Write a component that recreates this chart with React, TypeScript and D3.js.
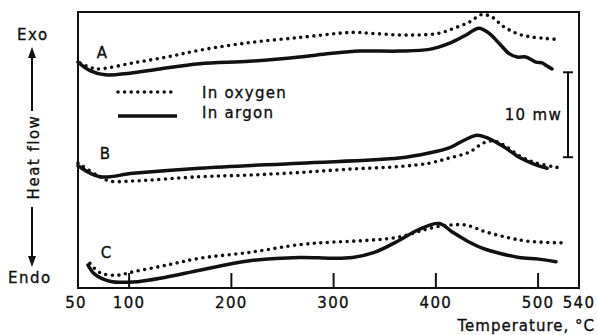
import React from "react";
import * as d3 from "d3";

// Temperature axis ticks (°C)
const xTicks = [100, 200, 300, 400, 500];
const xTickLabels = [50, 100, 200, 300, 400, 500, 540];

// Heat flow in mW (relative, with offsets for curves A, B, C)
const aArgonT = [50, 61.7, 76.4, 100.8, 130, 169, 218, 266.7, 296, 325, 364, 393.6, 413, 429.7, 442, 452, 462, 471.7, 479.5, 488, 498, 504, 508, 513.6];
const aArgonV = [26.6, 25.6, 25.1, 25.3, 25.8, 26.4, 26.7, 27.2, 27.6, 27.9, 27.9, 28.1, 28.8, 29.8, 30.6, 30.0, 28.8, 27.6, 27.2, 27.2, 26.6, 26.5, 26.2, 25.8];
const aOxyT = [52, 63.7, 71.5, 103.7, 136.9, 169, 218, 266.7, 305.7, 320.4, 335, 364, 383.8, 403, 418, 432.6, 445, 455, 464.8, 478.5, 491, 505.8, 515.6];
const aOxyV = [26.5, 25.9, 25.8, 26.5, 27.2, 28.0, 28.9, 29.5, 30.0, 30.1, 30.0, 29.8, 29.8, 30.0, 30.6, 31.3, 32.2, 31.9, 30.9, 30.0, 29.6, 29.4, 29.3];

const bArgonT = [50, 71.5, 103.7, 169, 266.7, 364, 393.6, 413, 427.7, 440.4, 452, 466.8, 481.4, 496, 508.8];
const bArgonV = [14.4, 13.1, 13.5, 14.1, 14.7, 15.3, 15.9, 16.5, 17.4, 18.0, 17.6, 16.6, 15.4, 14.6, 14.1];
const bOxyT = [50, 68.5, 81, 103.7, 169, 218, 266.7, 315.5, 364, 393.6, 413, 432.6, 447, 457, 466.8, 481.4, 496, 518.5];
const bOxyV = [14.7, 13.3, 12.6, 12.6, 13.1, 13.3, 13.6, 14.0, 14.3, 14.7, 15.3, 16.0, 17.1, 17.3, 16.8, 15.6, 14.8, 14.2];

const cArgonT = [59.8, 66.6, 81, 103.7, 136.9, 169, 218, 266.7, 298.9, 318.4, 339.9, 364, 381.9, 403.3, 416, 429.7, 445.3, 462, 481.4, 501, 517.5];
const cArgonV = [2.7, 1.6, 0.8, 0.7, 1.3, 2.1, 3.2, 3.6, 3.5, 3.6, 4.2, 5.6, 6.8, 7.6, 6.6, 5.6, 4.7, 4.1, 3.6, 3.4, 3.1];
const cOxyT = [61.7, 71.5, 88, 103.7, 136.9, 169, 218, 266.7, 298.9, 332, 364, 396.5, 413, 429.7, 449, 471.7, 491, 527];
const cOxyV = [2.9, 1.8, 1.5, 1.9, 2.7, 3.5, 4.2, 5.1, 5.4, 5.6, 6.0, 7.1, 7.4, 7.4, 6.6, 5.9, 5.5, 5.3];

const curveLabels = ["A", "B", "C"];
const curveLabelT = [74, 77, 78];
const curveLabelV = [27.1, 15.2, 3.5];

const legendLabels = ["In oxygen", "In argon"];
const scaleBarMW = 10;
const scaleBarBase = 15.4;

const W = 597;
const H = 335;
const x = d3.scaleLinear().domain([50, 540]).range([78, 579]);
const y = d3.scaleLinear().domain([0, 32.5]).range([288, 12]);

const lineGen = d3
  .line<[number, number]>()
  .x((d) => x(d[0]))
  .y((d) => y(d[1]))
  .curve(d3.curveCatmullRom.alpha(0.5));

const zip = (t: number[], v: number[]): [number, number][] => t.map((tt, i) => [tt, v[i]]);

const argonSeries = [zip(aArgonT, aArgonV), zip(bArgonT, bArgonV), zip(cArgonT, cArgonV)];
const oxySeries = [zip(aOxyT, aOxyV), zip(bOxyT, bOxyV), zip(cOxyT, cOxyV)];

const font = "'DejaVu Sans', sans-serif";

export default function App() {
  const textStyle = {
    fontFamily: font,
    fontSize: 15,
    fill: "#111",
    stroke: "#111",
    strokeWidth: 0.35,
    letterSpacing: 1.3,
  } as const;
  return (
    <svg
      width={W}
      height={H}
      viewBox={`0 0 ${W} ${H}`}
      style={{ position: "absolute", left: 0, top: 0, background: "#fff" }}
    >
      <rect x={0} y={0} width={W} height={H} fill="#fff" />
      {/* frame */}
      <rect x={78} y={12} width={501} height={276} fill="none" stroke="#111" strokeWidth={2} />
      {/* ticks */}
      {xTicks.map((t) => (
        <line key={t} x1={x(t)} x2={x(t)} y1={288} y2={273} stroke="#111" strokeWidth={2} />
      ))}
      {xTickLabels.map((t) => (
        <text key={t} x={x(t) - (t === 50 ? 2 : 0)} y={308} textAnchor="middle" style={textStyle}>
          {t}
        </text>
      ))}
      <text x={595} y={331} textAnchor="end" style={{ ...textStyle, letterSpacing: 1 }}>
        Temperature, °C
      </text>

      {/* curves */}
      {argonSeries.map((s, i) => (
        <path key={"a" + i} d={lineGen(s) || ""} fill="none" stroke="#111" strokeWidth={3.5} strokeLinejoin="round" strokeLinecap="round" />
      ))}
      {oxySeries.map((s, i) => (
        <path
          key={"o" + i}
          d={lineGen(s) || ""}
          fill="none"
          stroke="#111"
          strokeWidth={3.6}
          strokeDasharray="0 6.6"
          strokeLinecap="round"
        />
      ))}

      {/* curve labels */}
      {curveLabels.map((l, i) => (
        <text key={l} x={x(curveLabelT[i])} y={y(curveLabelV[i])} textAnchor="middle" style={textStyle}>
          {l}
        </text>
      ))}

      {/* legend */}
      <line x1={118} x2={177} y1={92} y2={92} stroke="#111" strokeWidth={3.6} strokeDasharray="0 6.6" strokeLinecap="round" />
      <line x1={118} x2={177} y1={116} y2={116} stroke="#111" strokeWidth={3.5} />
      <text x={202} y={98} style={textStyle}>{legendLabels[0]}</text>
      <text x={202} y={118} style={textStyle}>{legendLabels[1]}</text>

      {/* scale bar */}
      <line x1={568} x2={568} y1={y(scaleBarBase)} y2={y(scaleBarBase + scaleBarMW)} stroke="#111" strokeWidth={2} />
      <line x1={563} x2={573} y1={y(scaleBarBase)} y2={y(scaleBarBase)} stroke="#111" strokeWidth={2} />
      <line x1={563} x2={573} y1={y(scaleBarBase + scaleBarMW)} y2={y(scaleBarBase + scaleBarMW)} stroke="#111" strokeWidth={2} />
      <text x={562} y={120} textAnchor="end" style={textStyle}>
        {scaleBarMW} mw
      </text>

      {/* y-axis annotation */}
      <text x={17} y={40} style={{ ...textStyle, letterSpacing: 1.5 }}>Exo</text>
      <text x={8} y={283} style={{ ...textStyle, letterSpacing: 1.5 }}>Endo</text>
      <polygon points="32,47 28,58 36,58" fill="#111" />
      <line x1={32} x2={32} y1={55} y2={111} stroke="#111" strokeWidth={2} />
      <text
        transform="translate(39,157) rotate(-90)"
        textAnchor="middle"
        style={{ ...textStyle, letterSpacing: 1.5 }}
      >
        Heat flow
      </text>
      <line x1={32} x2={32} y1={207} y2={259} stroke="#111" strokeWidth={2} />
      <polygon points="32,267 28,256 36,256" fill="#111" />
    </svg>
  );
}
